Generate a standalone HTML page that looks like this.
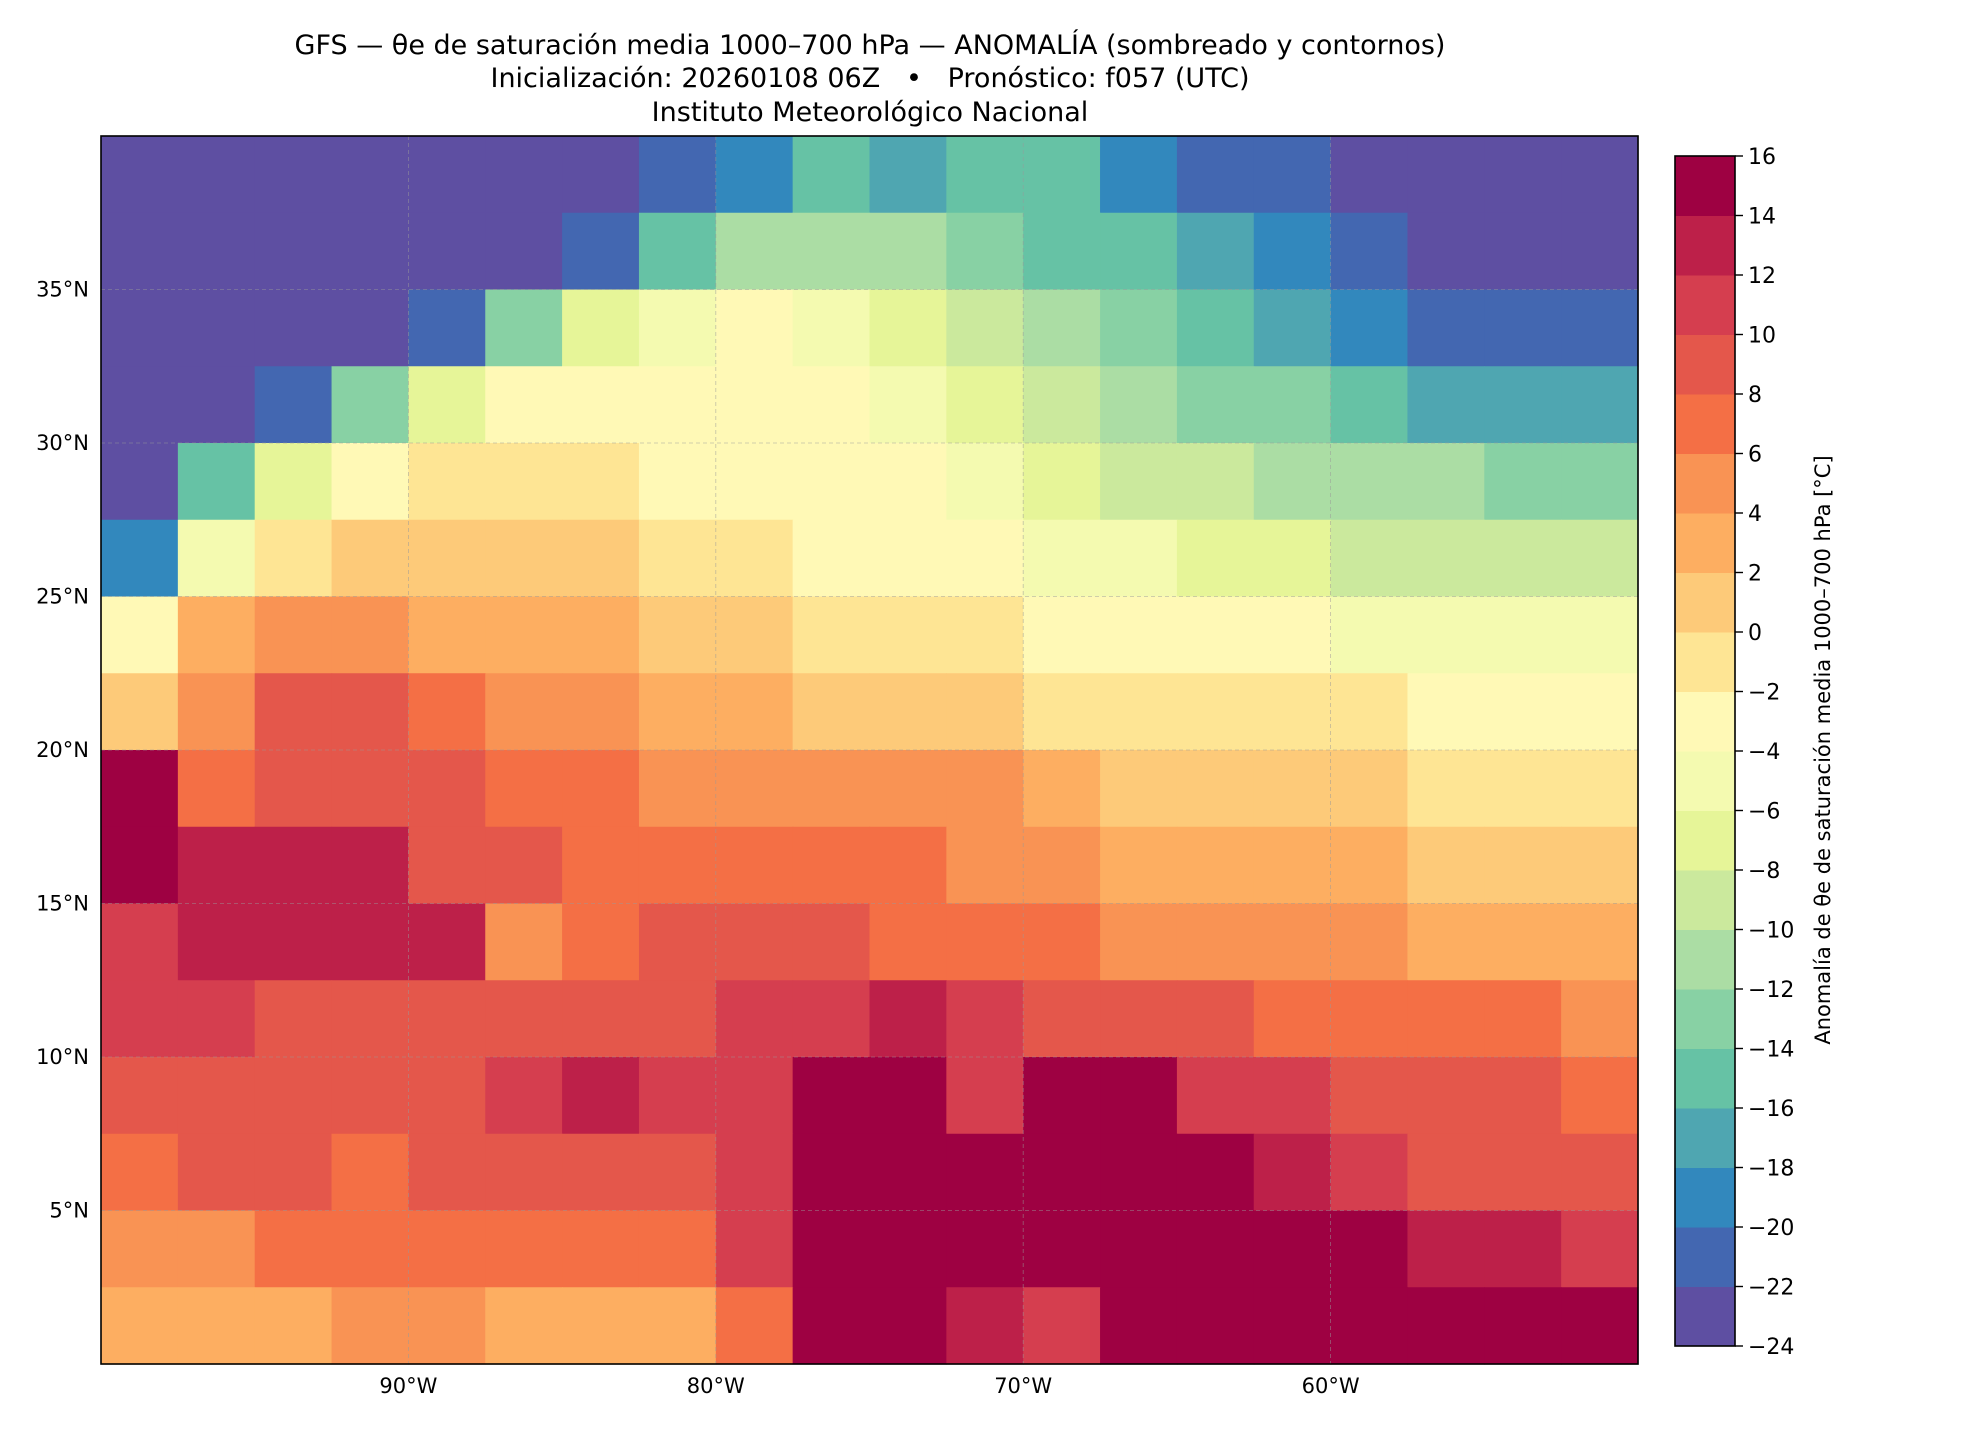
<!DOCTYPE html>
<html><head><meta charset="utf-8">
<style>
html,body{margin:0;padding:0;background:#fff;}
svg{display:block;font-family:"DejaVu Sans","Liberation Sans",sans-serif;}
</style></head>
<body>
<svg id="fig" width="1980" height="1440" viewBox="0 0 1980 1440" xmlns="http://www.w3.org/2000/svg">
<g font-size="27" text-anchor="middle" fill="#000">
<text x="870" y="54">GFS — θe de saturación media 1000–700 hPa — ANOMALÍA (sombreado y contornos)</text>
<text x="870" y="87">Inicialización: 20260108 06Z &#160;&#160;•&#160;&#160; Pronóstico: f057 (UTC)</text>
<text x="870" y="121">Instituto Meteorológico Nacional</text>
</g>
<g id="map"></g>
<g id="grid"></g>
<rect x="101" y="136" width="1537" height="1228" fill="none" stroke="#000" stroke-width="1.6"/>
<g id="axes" font-size="21"></g>
<g id="cbar" font-size="22"></g>
<text transform="translate(1830,750) rotate(-90)" text-anchor="middle" font-size="21">Anomalía de θe de saturación media 1000–700 hPa [°C]</text>
</svg>
<script>
const levels=[-24,-22,-20,-18,-16,-14,-12,-10,-8,-6,-4,-2,0,2,4,6,8,10,12,14,16];
const colors=["#5e4fa2","#4367b1","#3288bd","#4fa6b1","#66c2a5","#88d1a4","#abdda4","#cbe99d","#e6f598","#f4fab0","#fff9b6","#fee594","#fdca79","#fdae61","#f99354","#f46f45","#e4574b","#d53e4f","#bd2049","#9e0142"];
const lonCenters=[-98.75,-96.25,-93.75,-91.25,-88.75,-86.25,-83.75,-81.25,-78.75,-76.25,-73.75,-71.25,-68.75,-66.25,-63.75,-61.25,-58.75,-56.25,-53.75,-51.25];
const latCenters=[38.75,36.25,33.75,31.25,28.75,26.25,23.75,21.25,18.75,16.25,13.75,11.25,8.75,6.25,3.75,1.25];
const row0=[-24,-24,-24,-24,-24,-24,-24,-22,-20,-16,-17,-15,-15,-19,-21,-21,-23,-24,-24,-24];
const row1=[-24,-24,-24,-24,-24,-24,-22,-15,-12,-11,-12,-14,-15,-15,-17,-20,-21,-23,-24,-24];
const row2=[-24,-24,-24,-24,-22,-14,-8,-5,-4,-5,-7,-9,-12,-13,-15,-17,-19,-21,-22,-22];
const row3=[-24,-24,-22,-14,-7,-4,-3,-3,-3,-3,-5,-7,-9,-11,-13,-14,-16,-17,-18,-17];
const row4=[-24,-16,-8,-3,-1,-1,-2,-3,-3,-3,-4,-5,-7,-9,-10,-11,-12,-12,-13,-13];
const row5=[-20,-6,-1,1,1,1,0,-1,-2,-3,-3,-4,-5,-6,-7,-8,-9,-9,-10,-9];
const row6=[-4,3,5,5,3,3,2,1,0,-1,-2,-2,-3,-3,-4,-4,-5,-5,-5,-5];
const row7=[1,5,9,9,7,5,5,3,3,1,1,0,-1,-1,-1,-2,-2,-3,-3,-3];
const row8=[14,7,9,9,9,7,7,5,5,5,5,4,3,1,1,1,0,-1,-1,-1];
const row9=[15,12,13,13,9,9,7,7,7,7,6,5,5,3,3,3,3,1,1,1];
const row10=[11,13,13,13,12,5,7,9,9,9,7,7,7,5,5,5,5,3,3,3];
const row11=[11,11,9,9,9,9,9,9,11,11,12,11,9,9,9,7,7,7,7,5];
const row12=[9,9,9,9,9,11,13,11,11,15,15,11,15,15,11,11,9,9,9,7];
const row13=[7,9,9,7,9,9,9,9,11,15,15,15,15,15,15,13,11,9,9,9];
const row14=[5,5,7,7,7,7,7,7,11,15,15,15,15,15,15,15,15,13,13,11];
const row15=[3,3,3,5,5,3,3,3,7,15,15,13,11,15,15,15,15,15,15,15];
const field=[row0,row1,row2,row3,row4,row5,row6,row7,row8,row9,row10,row11,row12,row13,row14,row15];
const lonTicks=[-90,-80,-70,-60];
const lonLabels=["90°W","80°W","70°W","60°W"];
const latTicks=[35,30,25,20,15,10,5];
const latLabels=["35°N","30°N","25°N","20°N","15°N","10°N","5°N"];

const NS="http://www.w3.org/2000/svg";
const X0=101,X1=1638,Y0=136,Y1=1364;
const xOf=lon=>X0+(lon+100)/50*(X1-X0);
const yOf=lat=>Y0+(40-lat)/40*(Y1-Y0);
function colorFor(v){for(let i=0;i<colors.length;i++){if(v<levels[i+1])return colors[i];}return colors[colors.length-1];}
function mk(tag,attrs,parent){const e=document.createElementNS(NS,tag);for(const k in attrs)e.setAttribute(k,attrs[k]);parent.appendChild(e);return e;}

const map=document.getElementById('map');
field.forEach((row,r)=>{row.forEach((v,c)=>{
  const x=xOf(lonCenters[c]-1.25),x2=xOf(lonCenters[c]+1.25);
  const y=yOf(latCenters[r]+1.25),y2=yOf(latCenters[r]-1.25);
  const el=mk('rect',{x:x,y:y,width:x2-x+0.6,height:y2-y+0.6,fill:colorFor(v)},map);
  
  
});});

const grid=document.getElementById('grid');
lonTicks.forEach(l=>{const e=mk('line',{x1:xOf(l),x2:xOf(l),y1:Y0,y2:Y1,stroke:'#999','stroke-width':0.8,'stroke-dasharray':'4 3',opacity:0.6},grid);
  
  });
latTicks.forEach(l=>{const e=mk('line',{x1:X0,x2:X1,y1:yOf(l),y2:yOf(l),stroke:'#999','stroke-width':0.8,'stroke-dasharray':'4 3',opacity:0.6},grid);
  
  });

const axes=document.getElementById('axes');
lonTicks.forEach((l,i)=>{const t=mk('text',{x:xOf(l),y:1393,'text-anchor':'middle'},axes);t.textContent=lonLabels[i];
  
  });
latTicks.forEach((l,i)=>{const t=mk('text',{x:89,y:yOf(l)+7,'text-anchor':'end'},axes);t.textContent=latLabels[i];
  
  });

const cb=document.getElementById('cbar');
const CX=1675,CW=60,CT=156,CB=1346;
const cy=v=>CB-(v-levels[0])/(levels[levels.length-1]-levels[0])*(CB-CT);
colors.forEach((c,i)=>{const e=mk('rect',{x:CX,y:cy(levels[i+1]),width:CW,height:cy(levels[i])-cy(levels[i+1])+0.5,fill:c},cb);
  
  });
mk('rect',{x:CX,y:CT,width:CW,height:CB-CT,fill:'none',stroke:'#000','stroke-width':1.6},cb);
levels.forEach(v=>{mk('line',{x1:CX+CW,x2:CX+CW+8,y1:cy(v),y2:cy(v),stroke:'#000','stroke-width':1.4},cb);
  const t=mk('text',{x:CX+CW+13,y:cy(v)+8},cb);t.textContent=(v<0?'−':'')+Math.abs(v);
  
  });
</script>
</body></html>
